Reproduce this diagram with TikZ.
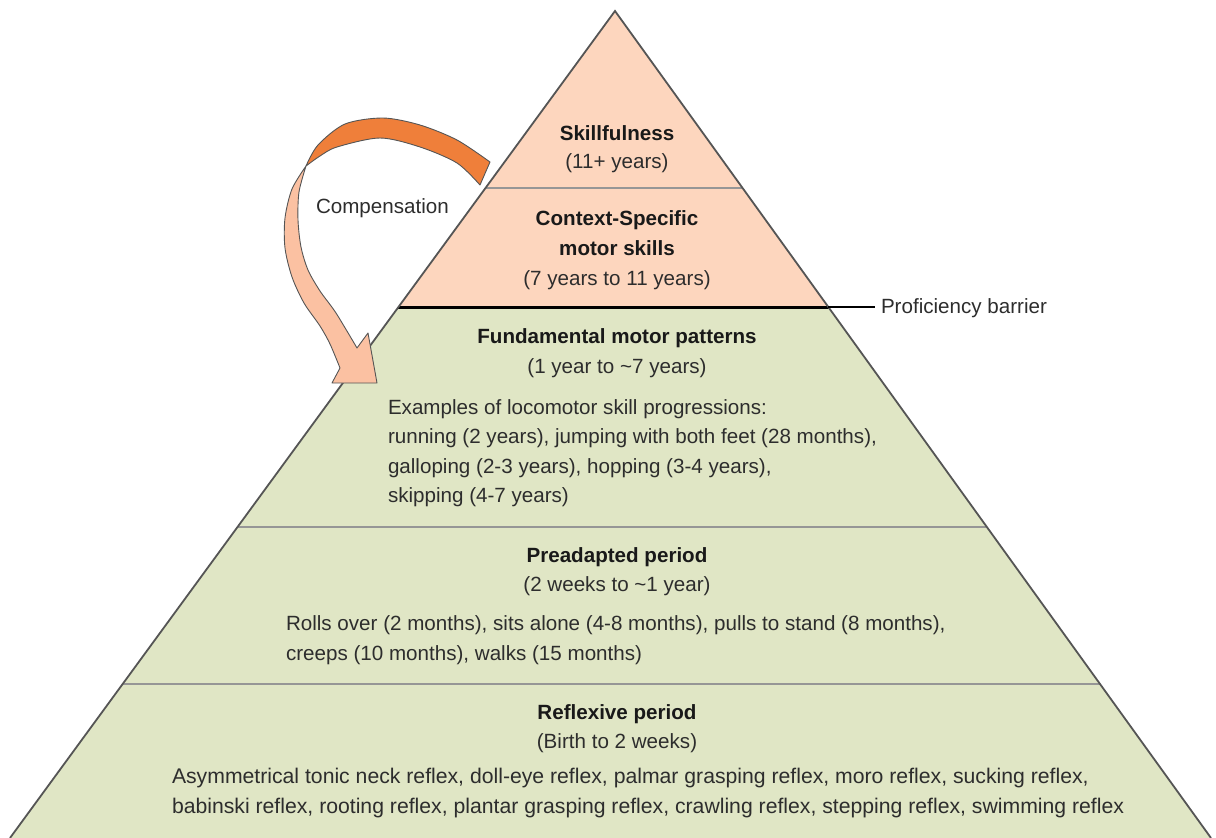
\documentclass[tikz,border=0pt]{standalone}
\usepackage{fontspec}
\setmainfont{Liberation Sans}
\definecolor{peach}{RGB}{253,214,190}
\definecolor{sage}{RGB}{224,230,197}
\definecolor{ribbondark}{RGB}{239,127,58}
\definecolor{ribbonlight}{RGB}{251,193,162}
\definecolor{edgegray}{RGB}{85,85,85}
\definecolor{divgray}{RGB}{150,150,150}
\definecolor{txt}{RGB}{45,45,45}
\definecolor{titletxt}{RGB}{25,25,25}
\begin{document}
\begin{tikzpicture}[x=1pt,y=-1pt,
  every node/.style={inner sep=0pt, outer sep=0pt, text=txt,
    font=\fontsize{20.6}{30}\selectfont},
  stagetitle/.style={anchor=base, text=titletxt,
    font=\fontsize{20.6}{30}\selectfont\bfseries},
  stageage/.style={anchor=base},
  stagebody/.style={anchor=base west},
  widebody/.style={anchor=base west, font=\fontsize{21.2}{30}\selectfont},
  divider/.style={draw=divgray, line width=1.6pt},
  pyredge/.style={draw=edgegray, line width=1.8pt, line join=miter},
  ribbon/.style={draw=edgegray, line width=0.9pt, line join=round}]
\useasboundingbox (0,0) rectangle (1216,838);

% pyramid corners
\coordinate (apex) at (615,11);
\coordinate (bl) at (10,838);
\coordinate (br) at (1211,838);
\coordinate (bar) at (828.3,307);

% bands of the pyramid
\begin{scope}
  \clip (apex) -- (br) -- (bl) -- cycle;
  \fill[peach] (0,0) rectangle (1216,307);
  \fill[sage] (0,307) rectangle (1216,838);
  \draw[divider] (0,188) -- (1216,188);
  \draw[divider] (0,527) -- (1216,527);
  \draw[divider] (0,684) -- (1216,684);
  \draw[black, line width=3pt] (0,307) -- (1216,307);
\end{scope}
\draw[pyredge] (bl) -- (apex) -- (br);

% stage labels
\node[stagetitle] (skill) at (617,140) {Skillfulness};
\node[stageage] (skillage) at (617,168) {(11+ years)};
\node[stagetitle] (ctx1) at (617,225) {Context-Specific};
\node[stagetitle] (ctx2) at (617,255) {motor skills};
\node[stageage] (ctxage) at (617,285) {(7 years to 11 years)};
\node[stagetitle] (fund) at (617,343) {Fundamental motor patterns};
\node[stageage] (fundage) at (617,373) {(1 year to \textasciitilde 7 years)};
\node[stagebody] (fundb1) at (388,414) {Examples of locomotor skill progressions:};
\node[stagebody] (fundb2) at (388,443) {running (2 years), jumping with both feet (28 months),};
\node[stagebody] (fundb3) at (388,473) {galloping (2-3 years), hopping (3-4 years),};
\node[stagebody] (fundb4) at (388,502) {skipping (4-7 years)};
\node[stagetitle] (pre) at (617,562) {Preadapted period};
\node[stageage] (preage) at (617,591) {(2 weeks to \textasciitilde 1 year)};
\node[stagebody] (preb1) at (286,630) {Rolls over (2 months), sits alone (4-8 months), pulls to stand (8 months),};
\node[stagebody] (preb2) at (286,660) {creeps (10 months), walks (15 months)};
\node[stagetitle] (refl) at (617,719) {Reflexive period};
\node[stageage] (reflage) at (617,748) {(Birth to 2 weeks)};
\node[widebody] (reflb1) at (172,783) {Asymmetrical tonic neck reflex, doll-eye reflex, palmar grasping reflex, moro reflex, sucking reflex,};
\node[widebody] (reflb2) at (172,813) {babinski reflex, rooting reflex, plantar grasping reflex, crawling reflex, stepping reflex, swimming reflex};

% proficiency barrier leader
\node[stagebody] (prof) at (881,313) {Proficiency barrier};
\draw[black, line width=1.2pt] (bar) -- ([xshift=-6pt]bar -| prof.west);

% compensation ribbon: dark back face, then light front face with head
\filldraw[ribbon, fill=ribbondark]
  plot[smooth] coordinates {(490,162) (457,140) (420,125) (383,118) (345,124) (318,145) (306,166)}
  -- plot[smooth] coordinates {(306,166) (320,156) (337,147) (380,138) (420,147) (457,163) (480,185)}
  -- cycle;
\filldraw[ribbon, fill=ribbonlight]
  plot[smooth] coordinates {(306,166) (299,192) (298,220) (301,247) (308,270) (320,291) (336,313) (357,348)}
  -- (368,333) -- (377,383) -- (332,383) -- (340,368)
  -- plot[smooth] coordinates {(340,368) (330,344) (320,326) (304,303) (292,277) (285,248) (285,218) (292,189) (306,166)}
  -- cycle;
\node[stagebody] (comp) at (316,213) {Compensation};
\end{tikzpicture}
\end{document}
